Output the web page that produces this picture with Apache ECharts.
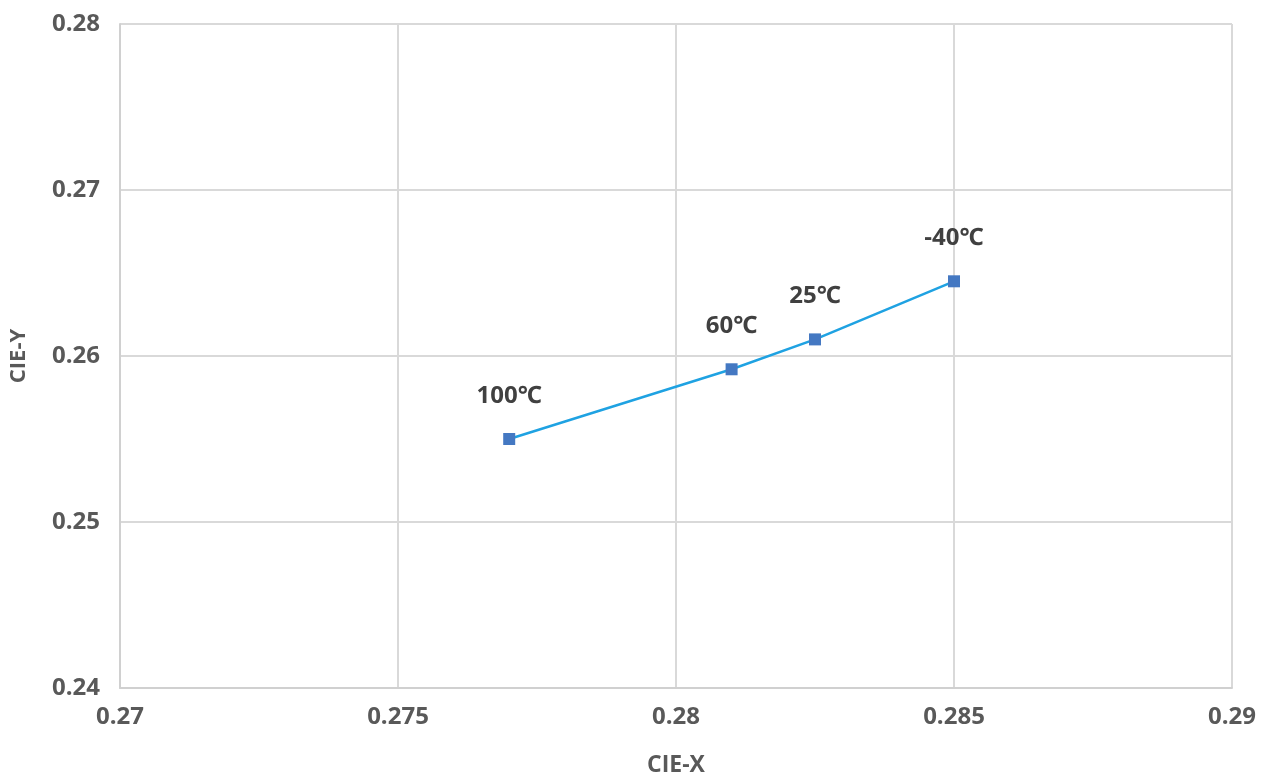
<!DOCTYPE html>
<html><head><meta charset="utf-8">
<script src="https://cdn.jsdelivr.net/npm/echarts@6/dist/echarts.min.js"></script>
<style>html,body{margin:0;padding:0;background:#fff}#c{width:1267px;height:782px}</style>
</head><body><div id="c"></div>
<script>
const labels = ['100℃', '60℃', '25℃', '-40℃'];
const cieX = [0.2770, 0.2810, 0.2825, 0.2850];
const cieY = [0.2550, 0.2592, 0.2610, 0.2645];
const xTicks = {min: 0.27, max: 0.29, interval: 0.005};
const yTicks = {min: 0.24, max: 0.28, interval: 0.01};

const font = '"Open Sans", "Noto Sans", sans-serif';
const chart = echarts.init(document.getElementById('c'));
const gridLine = {show: true, lineStyle: {color: '#d9d9d9', width: 2}};
chart.setOption({
  animation: false,
  backgroundColor: '#fff',
  grid: {left: 120, right: 35, top: 24, bottom: 91, containLabel: false},
  xAxis: {
    type: 'value', min: xTicks.min, max: xTicks.max, interval: xTicks.interval,
    name: 'CIE-X', nameLocation: 'middle', nameGap: 66,
    nameTextStyle: {fontFamily: font, fontWeight: 'bold', fontSize: 23, color: '#595959'},
    axisLine: {show: true, lineStyle: {color: '#d0d0d0', width: 2}},
    axisTick: {show: false},
    axisLabel: {fontFamily: font, fontWeight: 'bold', fontSize: 24, color: '#595959', margin: 17,
      formatter: v => String(+v.toFixed(3))},
    splitLine: gridLine
  },
  yAxis: {
    type: 'value', min: yTicks.min, max: yTicks.max, interval: yTicks.interval,
    name: 'CIE-Y', nameLocation: 'middle', nameGap: 90, nameRotate: 90,
    nameTextStyle: {fontFamily: font, fontWeight: 'bold', fontSize: 22, color: '#595959'},
    axisLine: {show: true, lineStyle: {color: '#d0d0d0', width: 2}},
    axisTick: {show: false},
    axisLabel: {fontFamily: font, fontWeight: 'bold', fontSize: 24, color: '#595959', margin: 20,
      formatter: v => String(+v.toFixed(3))},
    splitLine: gridLine
  },
  series: [{
    type: 'line',
    data: cieX.map((x, i) => [x, cieY[i]]),
    symbol: 'rect', symbolSize: 12,
    itemStyle: {color: '#4478c2'},
    lineStyle: {color: '#1fa2e2', width: 2.5},
    label: {show: true, position: 'top', distance: 25,
      formatter: p => labels[p.dataIndex],
      fontFamily: font, fontWeight: 'bold', fontSize: 24, color: '#404040'}
  }]
});
</script></body></html>
